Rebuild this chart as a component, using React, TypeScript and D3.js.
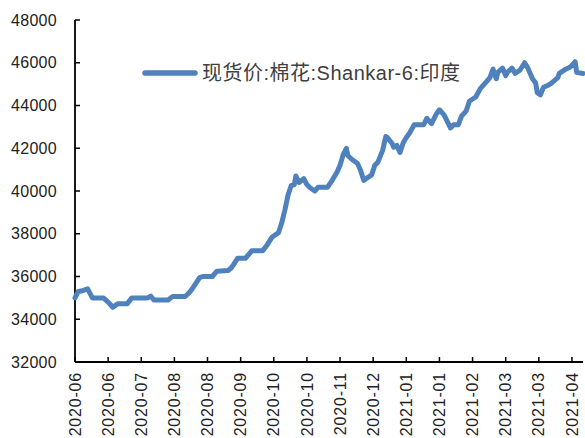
import React, { useEffect, useRef } from 'react';
import * as d3 from 'd3';

// spot price, India Shankar-6 cotton
const seriesName = '现货价:棉花:Shankar-6:印度';
const startDate = '2020-06-05';
const endDate = '2021-04-23';

// days after startDate
const dayOffsets = [
  0, 2, 4, 8, 11, 18, 21, 24, 27, 33, 36, 46, 48, 50, 59, 62, 70, 73, 75, 79,
  81, 87, 90, 97, 99, 100, 103, 108, 112, 119, 122, 125, 129, 131, 133, 135, 137, 139, 140, 142,
  145, 147, 149, 152, 154, 160, 163, 166, 168, 170, 172, 173, 176, 179, 181, 183, 185, 188, 190, 192,
  195, 197, 198, 201, 202, 204, 206, 208, 210, 212, 215, 221, 223, 226, 229, 231, 234, 238, 240, 243,
  245, 248, 250, 254, 257, 260, 263, 265, 267, 268, 271, 273, 274, 277, 279, 282, 285, 287, 290, 292,
  293, 295, 297, 300, 302, 306, 307, 311, 314, 316, 317, 318, 322,
];

const prices = [
  35000, 35300, 35320, 35420, 35000, 35000, 34800, 34560, 34720, 34720, 35000, 35000, 35080, 34900, 34900, 35070, 35070, 35300, 35500, 35950,
  36000, 36000, 36250, 36280, 36400, 36500, 36850, 36850, 37200, 37200, 37500, 37850, 38050, 38500, 39100, 39800, 40250, 40300, 40700, 40400,
  40580, 40300, 40150, 40000, 40170, 40170, 40500, 40870, 41200, 41700, 42000, 41650, 41450, 41300, 40970, 40500, 40600, 40750, 41200, 41350,
  41900, 42550, 42500, 42220, 42050, 42130, 41800, 42250, 42500, 42700, 43100, 43100, 43400, 43150, 43600, 43800, 43550, 42950, 43100, 43100,
  43500, 43750, 44200, 44400, 44800, 45050, 45300, 45700, 45250, 45550, 45750, 45400, 45550, 45750, 45500, 45650, 46000, 45750, 45250, 45050,
  44600, 44500, 44850, 44950, 45050, 45300, 45500, 45700, 45800, 45950, 46050, 45550, 45500,
];

const yTicks = [32000, 34000, 36000, 38000, 40000, 42000, 44000, 46000, 48000];

const xTickLabels = [
  '2020-06', '2020-06', '2020-07', '2020-08', '2020-08', '2020-09', '2020-10', '2020-10',
  '2020-11', '2020-12', '2021-01', '2021-01', '2021-02', '2021-03', '2021-03', '2021-04',
];

const App = () => {
  const chartRef = useRef(null);

  useEffect(() => {
    const svg = d3.select(chartRef.current);
    svg.selectAll('*').remove();

    const left = 75;
    const right = 583;
    const top = 20;
    const bottom = 362;
    const blue = '#4f81bd';
    const font = '"Liberation Sans", "Noto Sans CJK SC", sans-serif';

    const parse = d3.timeParse('%Y-%m-%d');
    const start = parse(startDate);
    const end = parse(endDate);

    const x = d3.scaleTime().domain([start, end]).range([left, right]);
    const y = d3.scaleLinear().domain([32000, 48000]).range([bottom, top]);

    const data = dayOffsets.map((d, i) => ({ date: d3.timeDay.offset(start, d), value: prices[i] }));
    const tickDates = d3.timeDay.range(start, end, 21).slice(0, xTickLabels.length);

    // y axis
    svg.append('line')
      .attr('x1', left).attr('x2', left)
      .attr('y1', top).attr('y2', bottom)
      .attr('stroke', '#000').attr('stroke-width', 1.8);

    const yg = svg.append('g');
    yg.selectAll('line')
      .data(yTicks)
      .enter()
      .append('line')
      .attr('x1', left).attr('x2', left + 5)
      .attr('y1', (d) => y(d)).attr('y2', (d) => y(d))
      .attr('stroke', '#000').attr('stroke-width', 1.5);
    yg.selectAll('text')
      .data(yTicks)
      .enter()
      .append('text')
      .attr('x', 57)
      .attr('y', (d) => y(d))
      .attr('dy', '0.35em')
      .attr('text-anchor', 'end')
      .attr('font-family', font)
      .attr('font-size', 16)
      .attr('letter-spacing', 0.3)
      .attr('fill', '#222')
      .text((d) => d);

    // x axis
    svg.append('line')
      .attr('x1', left).attr('x2', right)
      .attr('y1', bottom).attr('y2', bottom)
      .attr('stroke', '#000').attr('stroke-width', 1.8);

    const xg = svg.append('g');
    xg.selectAll('line')
      .data(tickDates)
      .enter()
      .append('line')
      .attr('x1', (d) => x(d)).attr('x2', (d) => x(d))
      .attr('y1', bottom).attr('y2', bottom - 5)
      .attr('stroke', '#000').attr('stroke-width', 1.5);
    xg.selectAll('text')
      .data(tickDates)
      .enter()
      .append('text')
      .attr('transform', (d) => `translate(${x(d)},${bottom + 10}) rotate(-90)`)
      .attr('dy', '0.35em')
      .attr('text-anchor', 'end')
      .attr('font-family', font)
      .attr('font-size', 16)
      .attr('letter-spacing', 0.8)
      .attr('fill', '#222')
      .text((d, i) => xTickLabels[i]);

    // series
    const line = d3.line()
      .x((d) => x(d.date))
      .y((d) => y(d.value))
      .curve(d3.curveLinear);

    svg.append('path')
      .datum(data)
      .attr('d', line)
      .attr('fill', 'none')
      .attr('stroke', blue)
      .attr('stroke-width', 5)
      .attr('stroke-linejoin', 'round')
      .attr('stroke-linecap', 'round');

    // legend
    svg.append('line')
      .attr('x1', 145).attr('x2', 195)
      .attr('y1', 73).attr('y2', 73)
      .attr('stroke', blue)
      .attr('stroke-width', 5.5)
      .attr('stroke-linecap', 'round');
    svg.append('text')
      .attr('x', 202)
      .attr('y', 73)
      .attr('dy', '0.35em')
      .attr('font-family', font)
      .attr('font-size', 20)
      .attr('letter-spacing', 0.5)
      .attr('fill', '#404040')
      .text(seriesName);
  }, []);

  return (
    <svg
      ref={chartRef}
      width={585}
      height={438}
      style={{ position: 'absolute', left: 0, top: 0, background: '#fff' }}
    ></svg>
  );
};

export default App;
